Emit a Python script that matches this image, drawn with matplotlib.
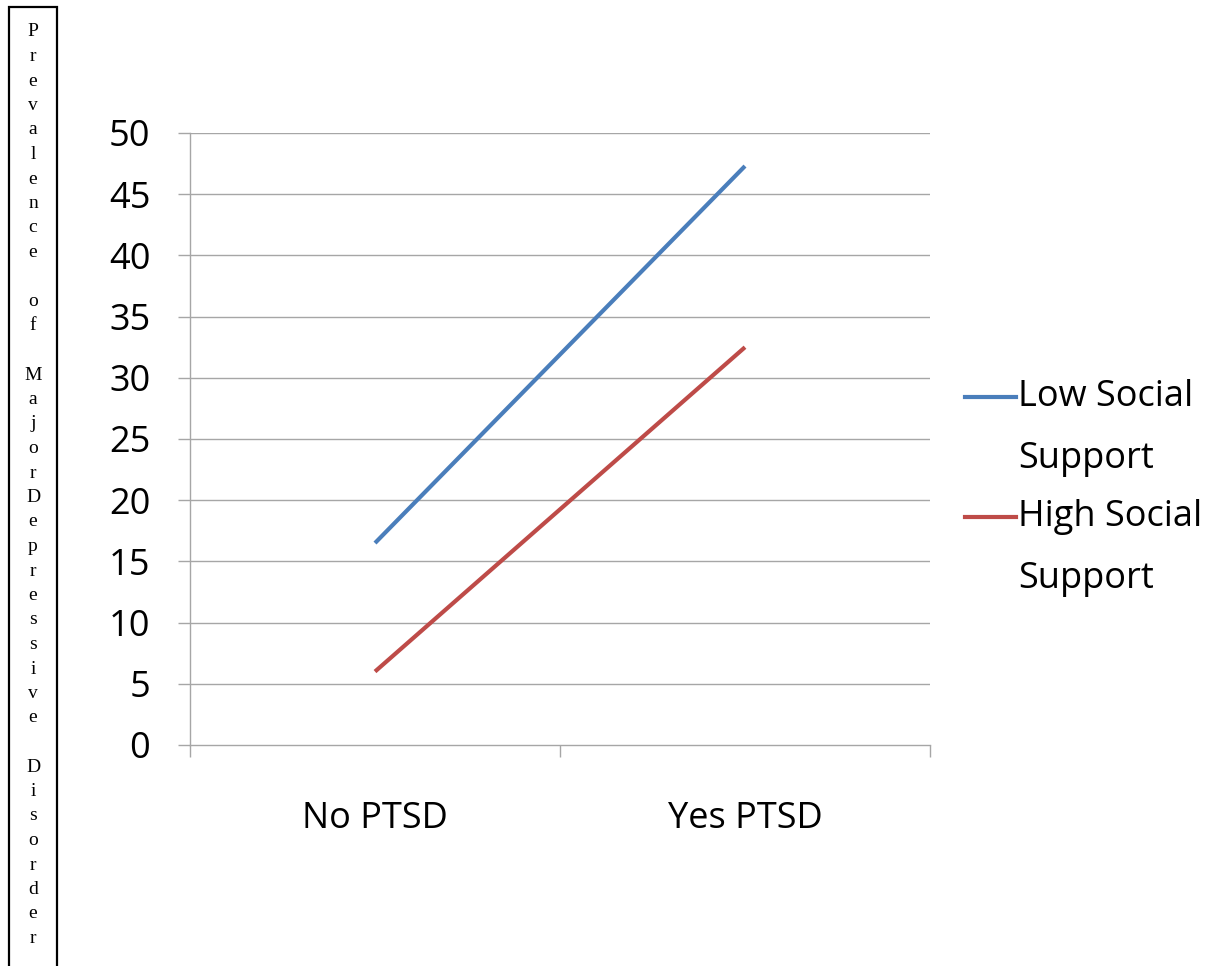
import numpy as np
import matplotlib
matplotlib.use("Agg")
import matplotlib.pyplot as plt
from matplotlib.patches import Rectangle
from matplotlib.lines import Line2D

# data
categories = ["No PTSD", "Yes PTSD"]
low_support = [16.5, 47.3]
high_support = [6.0, 32.5]
series_names = [["Low Social", "Support"], ["High Social", "Support"]]
series_colors = ["#4A7EBB", "#BE4B48"]
y_ticks = list(range(0, 51, 5))
side_title = "Prevalence of MajorDepressive Disorder"

W, H = 1212, 966
fig = plt.figure(figsize=(W / 100, H / 100), dpi=100)
fig.patch.set_facecolor("white")

def fx(px):
    return px / W

def fy(py):
    return 1 - py / H

ax = fig.add_axes([fx(190), fy(745), fx(930) - fx(190), fy(133) - fy(745)])

grid_col = "#a6a6a6"
font = "Open Sans"
x = np.arange(len(categories)) + 0.5
ax.plot(x, low_support, color=series_colors[0], lw=3.0, solid_capstyle="butt")
ax.plot(x, high_support, color=series_colors[1], lw=3.0, solid_capstyle="butt")

ax.set_xlim(0, 2)
ax.set_ylim(0, 50)
ax.set_yticks(y_ticks)
ax.set_yticklabels([str(v) for v in y_ticks])
for v in y_ticks[1:]:
    ax.axhline(v, color=grid_col, lw=1.0, zorder=0)

ax.set_xticks([0, 1, 2])
ax.set_xticklabels([])
ax.set_xticks(x, minor=True)
ax.set_xticklabels(categories, minor=True)

ax.tick_params(axis="y", length=8.6, width=1.0, color=grid_col, pad=20,
               labelsize=26, labelfontfamily=font)
ax.tick_params(axis="x", which="major", length=8.6, width=1.0, color=grid_col)
ax.tick_params(axis="x", which="minor", length=0, pad=40,
               labelsize=26, labelfontfamily=font)

for s in ["top", "right"]:
    ax.spines[s].set_visible(False)
for s in ["left", "bottom"]:
    ax.spines[s].set_color(grid_col)
    ax.spines[s].set_linewidth(1.0)

# legend drawn by hand so the key sits on the first text line
legend_y = [397, 517]
for name, col, ly in zip(series_names, series_colors, legend_y):
    fig.add_artist(Line2D([fx(965), fx(1016)], [fy(ly), fy(ly)], color=col, lw=3.0,
                          transform=fig.transFigure))
    for k, part in enumerate(name):
        fig.text(fx(1018), fy(ly + k * 62), part, fontsize=26, family=font,
                 va="center", ha="left")

# vertical letter-stack title in a box on the left
fig.add_artist(Rectangle((fx(9), fy(990)), fx(57) - fx(9), fy(7) - fy(990),
                         fill=False, lw=1.6, ec="black", transform=fig.transFigure))
lines = []
for word in side_title.split(" "):
    lines.extend(list(word))
    lines.append("")
lines = lines[:-1]
for i, ch in enumerate(lines):
    if ch:
        fig.text(fx(33), fy(32 + i * 24.5), ch, fontsize=14, family="Liberation Serif",
                 ha="center", va="center")

fig.savefig("out.png", dpi=100)
